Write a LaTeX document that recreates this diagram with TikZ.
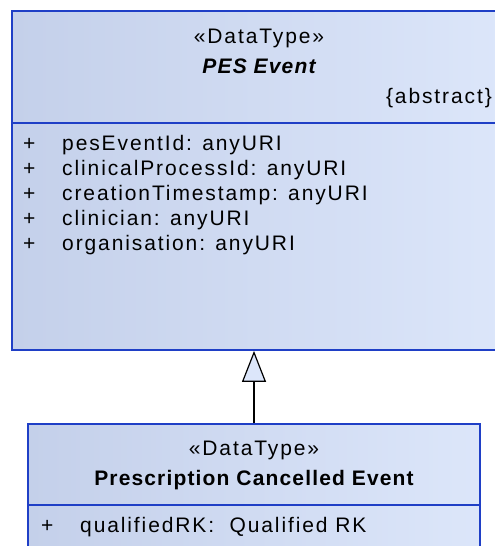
\documentclass[tikz,border=0pt]{standalone}
\usepackage{fontspec}
\setmainfont{Liberation Sans}[LetterSpace=9]
\usepackage{tikz}
\usetikzlibrary{arrows.meta,positioning}

\definecolor{umlblue}{HTML}{1F3FC6}
\definecolor{umlfillL}{HTML}{C4D0EA}
\definecolor{umlfillR}{HTML}{DCE6FA}
\newcommand{\umlfont}{\fontsize{21}{25}\selectfont}
\newcommand{\umlbold}{\bfseries\addfontfeature{LetterSpace=5.5}}
\newcommand{\umlattr}[1]{\makebox[39pt][l]{+}#1}

\begin{document}
\begin{tikzpicture}[x=1pt,y=-1pt,node distance=25pt,on grid,
  classbox/.style={draw=umlblue,line width=1.8pt,left color=umlfillL,right color=umlfillR,inner sep=0pt},
  txt/.style={inner sep=0pt,font=\umlfont,text height=15pt,text depth=4pt},
  attr/.style={txt,anchor=west},
  compartment/.style={draw=umlblue,line width=1.8pt},
  generalization/.style={line width=1.2pt,-{Triangle[open,fill=umlfillR,length=31pt,width=24pt]}}]
  \clip (0,0) rectangle (495,546);
  % PES Event
  \node[classbox,minimum width=492,minimum height=339] (pes) at (258,180.5) {};
  \node[txt]           (pesst)  at (259,38)       {«DataType»};
  \node[txt]           (pesname) [below=30pt of pesst] {\umlbold\itshape PES Event};
  \node[txt,anchor=east] (pesabs) at (492,98)     {\{abstract\}};
  \draw[compartment] (pes.west |- 0,123) -- (pes.east |- 0,123);
  \node[attr]          (a1) at (23,145)  {\umlattr{pesEventId: anyURI}};
  \node[attr]          (a2) [below=of a1.west,anchor=west] {\umlattr{clinicalProcessId: anyURI}};
  \node[attr]          (a3) [below=of a2.west,anchor=west] {\umlattr{creationTimestamp: anyURI}};
  \node[attr]          (a4) [below=of a3.west,anchor=west] {\umlattr{clinician: anyURI}};
  \node[attr]          (a5) [below=of a4.west,anchor=west] {\umlattr{organisation: anyURI}};
  % Prescription Cancelled Event
  \node[classbox,minimum width=452,minimum height=146] (pce) at (254,497) {};
  \node[txt]           (pcest)  at (254,450)      {«DataType»};
  \node[txt]           (pcename) [below=30pt of pcest] {\umlbold Prescription Cancelled Event};
  \draw[compartment] (pce.west |- 0,505) -- (pce.east |- 0,505);
  \node[attr]          (b1) at (41,527)  {\umlattr{qualifiedRK:\ \ Qualified RK}};
  \draw[generalization] (pce.north) -- (pce.north |- pes.south);
\end{tikzpicture}
\end{document}
